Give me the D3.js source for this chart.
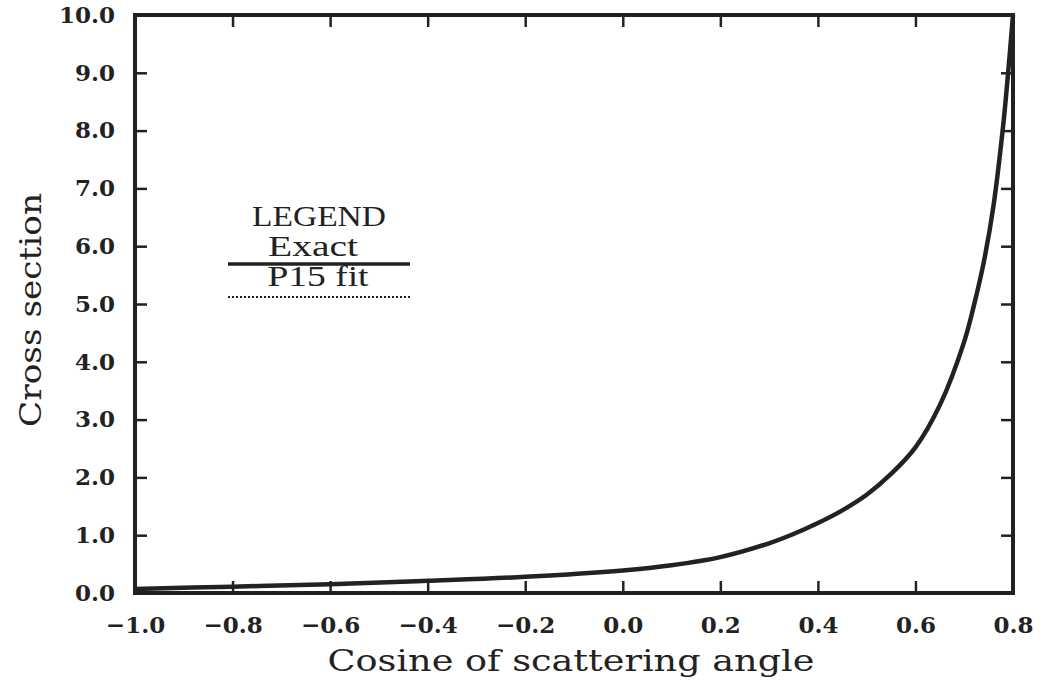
<!DOCTYPE html>
<html>
<head>
<meta charset="utf-8">
<script src="https://cdn.jsdelivr.net/npm/d3@7"></script>
<style>
  html, body { margin: 0; padding: 0; background: #fff; }
  svg { display: block; }
</style>
</head>
<body>
<svg id="chart" width="1043" height="687"></svg>
<script>
// ---- Data ----
const cosAngle    = [-1.0, -0.8, -0.6, -0.4, -0.2, 0.0, 0.1, 0.2, 0.3, 0.35, 0.4, 0.45, 0.5, 0.55, 0.6, 0.65, 0.7, 0.72, 0.74, 0.76, 0.78, 0.79, 0.80];
const exactValues = [0.07, 0.11, 0.15, 0.21, 0.28, 0.39, 0.48, 0.62, 0.86, 1.02, 1.21, 1.43, 1.70, 2.06, 2.52, 3.25, 4.35, 4.98, 5.72, 6.70, 8.10, 9.00, 10.0];
const fitValues   = [0.07, 0.11, 0.15, 0.21, 0.28, 0.39, 0.48, 0.62, 0.86, 1.02, 1.21, 1.43, 1.70, 2.06, 2.52, 3.25, 4.35, 4.98, 5.72, 6.70, 8.10, 9.00, 10.0];
const xTicks = [-1.0, -0.8, -0.6, -0.4, -0.2, 0.0, 0.2, 0.4, 0.6, 0.8];
const yTicks = [0, 1, 2, 3, 4, 5, 6, 7, 8, 9, 10];
const legendTitle = "LEGEND";
const seriesNames = ["Exact", "P15 fit"];
const xTitle = "Cosine of scattering angle";
const yTitle = "Cross section";

(function () {
const svg = d3.select("#chart");
const mLeft = 135, mRight = 1013, mTop = 15, mBottom = 593;
const ink = "#222";

const x = d3.scaleLinear().domain([-1.0, 0.8]).range([mLeft, mRight]);
const y = d3.scaleLinear().domain([0, 10]).range([mBottom, mTop]);

const fmt = d => (d < 0 ? "\u2212" : "") + Math.abs(d).toFixed(1);

const line = d3.line().x(d => x(d[0])).y(d => y(d[1])).curve(d3.curveCatmullRom.alpha(0.5));

svg.append("path")
  .datum(cosAngle.map((c, i) => [c, fitValues[i]]))
  .attr("d", line)
  .attr("fill", "none")
  .attr("stroke", ink)
  .attr("stroke-width", 2)
  .attr("stroke-dasharray", "2,3");

svg.append("path")
  .datum(cosAngle.map((c, i) => [c, exactValues[i]]))
  .attr("d", line)
  .attr("fill", "none")
  .attr("stroke", ink)
  .attr("stroke-width", 4.5)
  .attr("stroke-linejoin", "round");

const tickLen = 12;
const tickStyle = g => {
  g.select(".domain").remove();
  g.selectAll(".tick line").attr("stroke", ink).attr("stroke-width", 2.5);
};

svg.append("g").attr("transform", `translate(0,${mBottom})`)
  .call(d3.axisBottom(x).tickValues(xTicks).tickSize(-tickLen).tickFormat(fmt).tickPadding(24))
  .call(tickStyle)
  .call(g => g.selectAll(".tick text")
    .attr("fill", ink).attr("font-family", "DejaVu Serif").attr("font-weight", "bold").attr("font-size", 23));

svg.append("g").attr("transform", `translate(0,${mTop})`)
  .call(d3.axisTop(x).tickValues(xTicks).tickSize(-tickLen).tickFormat(""))
  .call(tickStyle);

svg.append("g").attr("transform", `translate(${mLeft},0)`)
  .call(d3.axisLeft(y).tickValues(yTicks).tickSize(-tickLen).tickFormat(d => d.toFixed(1)).tickPadding(20))
  .call(tickStyle)
  .call(g => g.selectAll(".tick text")
    .attr("fill", ink).attr("font-family", "DejaVu Serif").attr("font-weight", "bold").attr("font-size", 23));

svg.append("g").attr("transform", `translate(${mRight},0)`)
  .call(d3.axisRight(y).tickValues(yTicks).tickSize(-tickLen).tickFormat(""))
  .call(tickStyle);

svg.append("rect")
  .attr("x", mLeft).attr("y", mTop)
  .attr("width", mRight - mLeft).attr("height", mBottom - mTop)
  .attr("fill", "none").attr("stroke", ink).attr("stroke-width", 4);

svg.append("text")
  .attr("x", 571).attr("y", 671)
  .attr("text-anchor", "middle")
  .attr("font-family", "DejaVu Serif").attr("font-size", 29)
  .attr("fill", ink)
  .attr("textLength", 487).attr("lengthAdjust", "spacingAndGlyphs")
  .text(xTitle);

svg.append("text")
  .attr("transform", "translate(41,310) rotate(-90)")
  .attr("text-anchor", "middle")
  .attr("font-family", "DejaVu Serif").attr("font-size", 29)
  .attr("fill", ink)
  .attr("textLength", 234).attr("lengthAdjust", "spacingAndGlyphs")
  .text(yTitle);

const lg = svg.append("g").attr("font-family", "Liberation Serif").attr("fill", ink);
lg.append("text").attr("x", 319).attr("y", 226).attr("text-anchor", "middle")
  .attr("font-size", 29).attr("textLength", 134).attr("lengthAdjust", "spacingAndGlyphs").text(legendTitle);
lg.append("text").attr("x", 313).attr("y", 256).attr("text-anchor", "middle")
  .attr("font-size", 29).attr("textLength", 90).attr("lengthAdjust", "spacingAndGlyphs").text(seriesNames[0]);
lg.append("text").attr("x", 318).attr("y", 286).attr("text-anchor", "middle")
  .attr("font-size", 29).attr("textLength", 101).attr("lengthAdjust", "spacingAndGlyphs").text(seriesNames[1]);
lg.append("line").attr("x1", 228).attr("x2", 410).attr("y1", 264).attr("y2", 264)
  .attr("stroke", ink).attr("stroke-width", 3.5);
lg.append("line").attr("x1", 228).attr("x2", 410).attr("y1", 297).attr("y2", 297)
  .attr("stroke", ink).attr("stroke-width", 2).attr("stroke-dasharray", "2,2");
})();
</script>
</body>
</html>
